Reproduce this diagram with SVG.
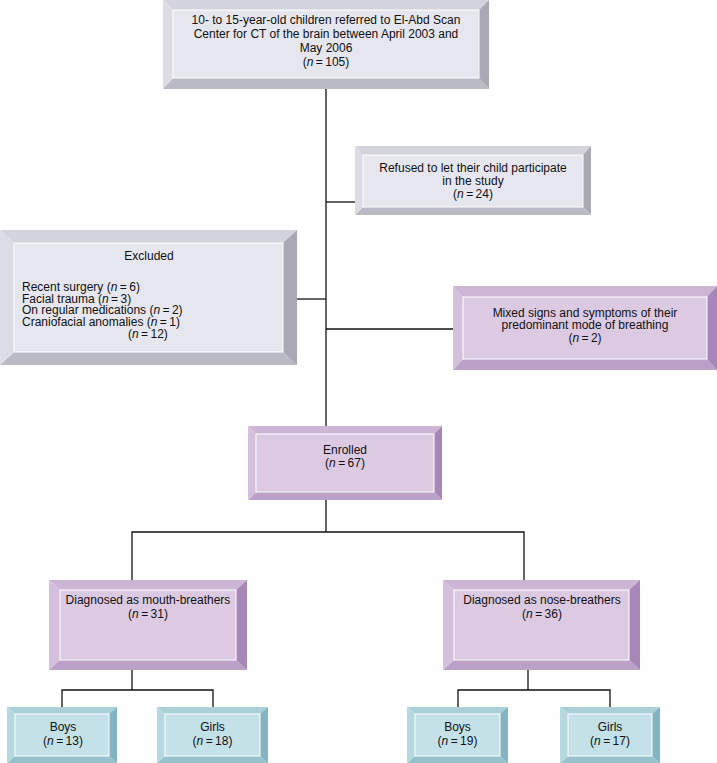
<svg xmlns="http://www.w3.org/2000/svg" width="717" height="763" viewBox="0 0 717 763">
<style>
text{font-family:"Liberation Sans",Arial,sans-serif;font-size:12px;fill:#111}
.c{text-anchor:middle}
.i{font-style:italic}
.face{stroke:#fff;stroke-width:1}
.hl{stroke:#fff;stroke-width:0.8;fill:none}
.g .t{fill:#d3d3db}.g .l{fill:#dcdce4}.g .r{fill:#a9a9b6}.g .b{fill:#babac4}.g .face{fill:#e6e6ee}
.p .t{fill:#cdb5d6}.p .l{fill:#d4bfdc}.p .r{fill:#a986b8}.p .b{fill:#bba0c8}.p .face{fill:#dccae3}
.q .t{fill:#aad0d8}.q .l{fill:#b6d8df}.q .r{fill:#83b4c1}.q .b{fill:#96c2cc}.q .face{fill:#c4e1e7}
#connectors path{stroke:#111;stroke-width:1.3;fill:none}
</style>

<g id="connectors">
<path d="M326 89V426"/>
<path d="M326 202H355"/>
<path d="M297 299H326"/>
<path d="M326 329H453"/>
<path d="M326 500V532M132 580V532H524V580"/>
<path d="M132 670V690M62 707V690H213V707"/>
<path d="M528 670V690M458 707V690H610V707"/>
</g>

<g id="top" class="g">
<polygon class="t" points="163,0 489,0 479,10 173,10"/>
<polygon class="b" points="163,89 489,89 479,78 173,78"/>
<polygon class="l" points="163,0 173,10 173,78 163,89"/>
<polygon class="r" points="489,0 479,10 479,78 489,89"/>
<rect class="face" x="173" y="10" width="306" height="68"/>
<text class="c" x="326" y="24">10- to 15-year-old children referred to El-Abd Scan</text>
<text class="c" x="326" y="38">Center for CT of the brain between April 2003 and</text>
<text class="c" x="326" y="52">May 2006</text>
<text class="c" x="326" y="66">(<tspan class="i">n</tspan>&#8201;=&#8201;105)</text>
</g>

<g id="refused" class="g">
<polygon class="t" points="355,146 591,146 583,155 363,155"/>
<polygon class="b" points="355,215 591,215 583,207 363,207"/>
<polygon class="l" points="355,146 363,155 363,207 355,215"/>
<polygon class="r" points="591,146 583,155 583,207 591,215"/>
<rect class="face" x="363" y="155" width="220" height="52"/>
<text class="c" x="473" y="172">Refused to let their child participate</text>
<text class="c" x="473" y="185">in the study</text>
<text class="c" x="473" y="198">(<tspan class="i">n</tspan>&#8201;=&#8201;24)</text>
</g>

<g id="excluded" class="g">
<polygon class="t" points="0,230 297,230 283,243 14,243"/>
<polygon class="b" points="0,365 297,365 283,352 14,352"/>
<polygon class="l" points="0,230 14,243 14,352 0,365"/>
<polygon class="r" points="297,230 283,243 283,352 297,365"/>
<rect class="face" x="14" y="243" width="269" height="109"/>
<text class="c" x="149" y="260">Excluded</text>
<text x="22" y="291">Recent surgery (<tspan class="i">n</tspan>&#8201;=&#8201;6)</text>
<text x="22" y="302.7">Facial trauma (<tspan class="i">n</tspan>&#8201;=&#8201;3)</text>
<text x="22" y="314.4">On regular medications (<tspan class="i">n</tspan>&#8201;=&#8201;2)</text>
<text x="22" y="326">Craniofacial anomalies (<tspan class="i">n</tspan>&#8201;=&#8201;1)</text>
<text x="128" y="337.5">(<tspan class="i">n</tspan>&#8201;=&#8201;12)</text>
</g>

<g id="mixed" class="p">
<polygon class="t" points="453,286 717,286 707,297 463,297"/>
<polygon class="b" points="453,370 717,370 707,359 463,359"/>
<polygon class="l" points="453,286 463,297 463,359 453,370"/>
<polygon class="r" points="717,286 707,297 707,359 717,370"/>
<rect class="face" x="463" y="297" width="244" height="62"/>
<text class="c" x="585" y="316.5">Mixed signs and symptoms of their</text>
<text class="c" x="585" y="329.3">predominant mode of breathing</text>
<text class="c" x="585" y="342">(<tspan class="i">n</tspan>&#8201;=&#8201;2)</text>
</g>

<g id="enrolled" class="p">
<polygon class="t" points="248,426 442,426 434,434 256,434"/>
<polygon class="b" points="248,500 442,500 434,492 256,492"/>
<polygon class="l" points="248,426 256,434 256,492 248,500"/>
<polygon class="r" points="442,426 434,434 434,492 442,500"/>
<rect class="face" x="256" y="434" width="178" height="58"/>
<text class="c" x="345" y="454">Enrolled</text>
<text class="c" x="345" y="467">(<tspan class="i">n</tspan>&#8201;=&#8201;67)</text>
</g>

<g id="mouth" class="p">
<polygon class="t" points="49,580 247,580 236,590 60,590"/>
<polygon class="b" points="49,670 247,670 236,660 60,660"/>
<polygon class="l" points="49,580 60,590 60,660 49,670"/>
<polygon class="r" points="247,580 236,590 236,660 247,670"/>
<rect class="face" x="60" y="590" width="176" height="70"/>
<text class="c" x="148" y="604">Diagnosed as mouth-breathers</text>
<text class="c" x="148" y="618">(<tspan class="i">n</tspan>&#8201;=&#8201;31)</text>
</g>

<g id="nose" class="p">
<polygon class="t" points="443,580 640,580 629,590 454,590"/>
<polygon class="b" points="443,670 640,670 629,660 454,660"/>
<polygon class="l" points="443,580 454,590 454,660 443,670"/>
<polygon class="r" points="640,580 629,590 629,660 640,670"/>
<rect class="face" x="454" y="590" width="175" height="70"/>
<text class="c" x="542" y="604">Diagnosed as nose-breathers</text>
<text class="c" x="542" y="618">(<tspan class="i">n</tspan>&#8201;=&#8201;36)</text>
</g>

<g id="boys1" class="q">
<polygon class="t" points="7,707 117,707 109,714 15,714"/>
<polygon class="b" points="7,763 117,763 109,756 15,756"/>
<polygon class="l" points="7,707 15,714 15,756 7,763"/>
<polygon class="r" points="117,707 109,714 109,756 117,763"/>
<rect class="face" x="15" y="714" width="94" height="42"/>
<text class="c" x="63" y="731">Boys</text>
<text class="c" x="63" y="745">(<tspan class="i">n</tspan>&#8201;=&#8201;13)</text>
</g>

<g id="girls1" class="q">
<polygon class="t" points="157,707 268,707 260,714 165,714"/>
<polygon class="b" points="157,763 268,763 260,756 165,756"/>
<polygon class="l" points="157,707 165,714 165,756 157,763"/>
<polygon class="r" points="268,707 260,714 260,756 268,763"/>
<rect class="face" x="165" y="714" width="95" height="42"/>
<text class="c" x="212.5" y="731">Girls</text>
<text class="c" x="212.5" y="745">(<tspan class="i">n</tspan>&#8201;=&#8201;18)</text>
</g>

<g id="boys2" class="q">
<polygon class="t" points="407,707 508,707 500,714 415,714"/>
<polygon class="b" points="407,763 508,763 500,756 415,756"/>
<polygon class="l" points="407,707 415,714 415,756 407,763"/>
<polygon class="r" points="508,707 500,714 500,756 508,763"/>
<rect class="face" x="415" y="714" width="85" height="42"/>
<text class="c" x="457.5" y="731">Boys</text>
<text class="c" x="457.5" y="745">(<tspan class="i">n</tspan>&#8201;=&#8201;19)</text>
</g>

<g id="girls2" class="q">
<polygon class="t" points="560,707 660,707 652,714 568,714"/>
<polygon class="b" points="560,763 660,763 652,756 568,756"/>
<polygon class="l" points="560,707 568,714 568,756 560,763"/>
<polygon class="r" points="660,707 652,714 652,756 660,763"/>
<rect class="face" x="568" y="714" width="84" height="42"/>
<text class="c" x="610" y="731">Girls</text>
<text class="c" x="610" y="745">(<tspan class="i">n</tspan>&#8201;=&#8201;17)</text>
</g>
</svg>
